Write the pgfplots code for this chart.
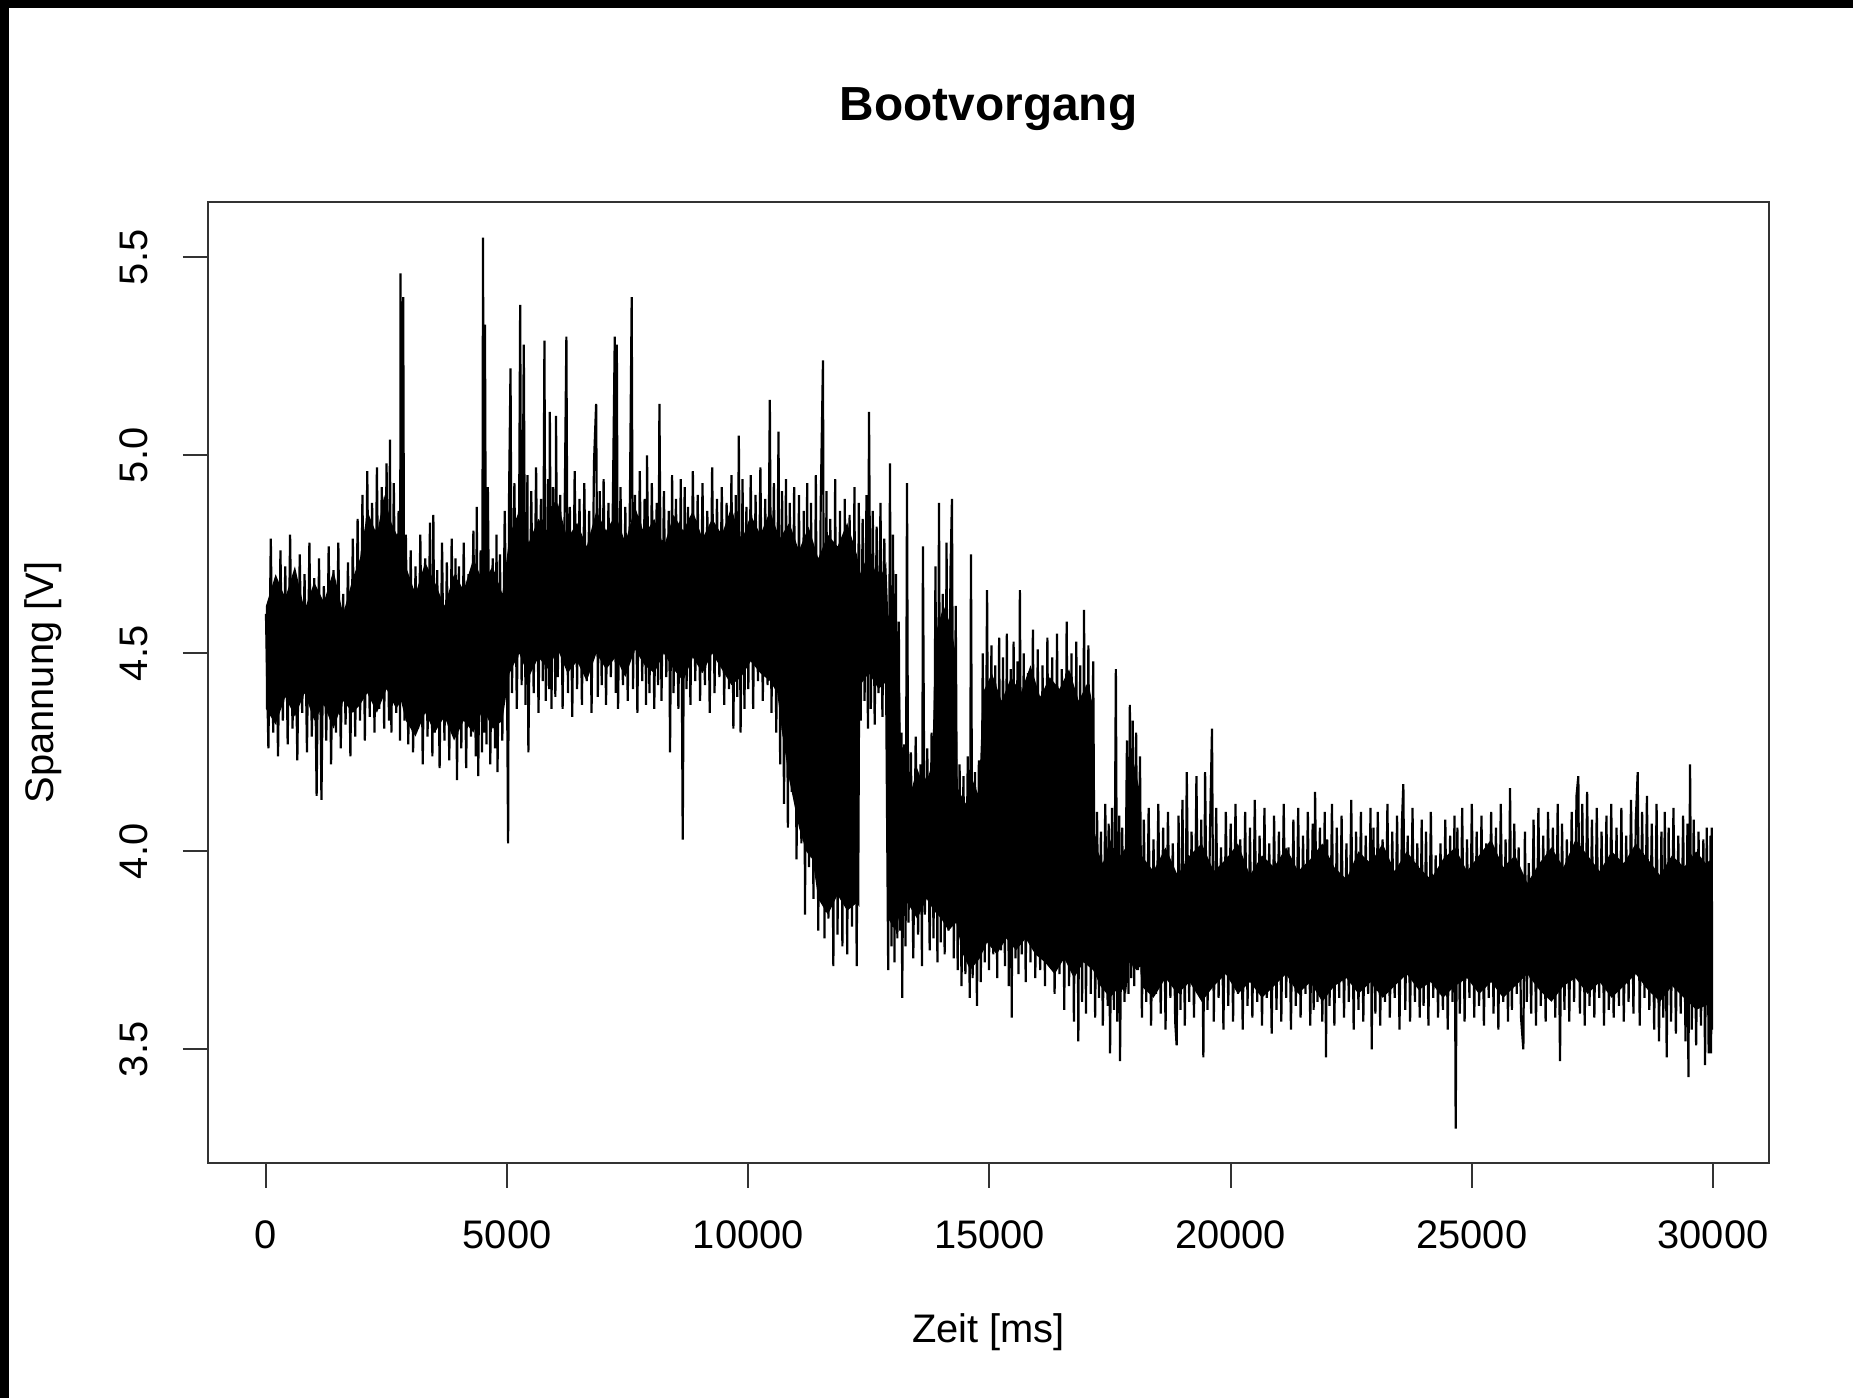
\documentclass[border=0pt]{standalone}
\usepackage{fontspec}
\setmainfont{Liberation Sans}
\usepackage{pgfplots}
\pgfplotsset{compat=1.18}

\begin{document}
\begin{tikzpicture}
\useasboundingbox (0,0) rectangle (463.25bp,349.5bp);
% screenshot frame: black strip at top and left
\fill[black] (0,0) rectangle (463.25bp,349.5bp);
\fill[white] (2.25bp,0) rectangle (463.25bp,347.5bp);
\begin{axis}[
  at={(52bp,58.75bp)}, anchor=south west,
  scale only axis, width=390.25bp, height=240.25bp,
  xmin=-1202, xmax=31161, ymin=3.213, ymax=5.640,
  axis line style={black!80, line width=0.5bp},
  tick style={black!80, line width=0.5bp},
  tick align=outside, major tick length=6.25bp,
  xtick pos=bottom, ytick pos=left,
  scaled x ticks=false, scaled y ticks=false,
  xtick={0,5000,10000,15000,20000,25000,30000},
  xticklabels={0,5000,10000,15000,20000,25000,30000},
  ytick={3.5,4,4.5,5,5.5},
  yticklabels={3.5,4.0,4.5,5.0,5.5},
  /pgf/number format/assume math mode=true,
  ticklabel style={font=\fontsize{10}{12}\selectfont},
  xticklabel style={anchor=center, yshift=-11.75bp},
  yticklabel style={xshift=-12.35bp, rotate=90, anchor=center},
  title={\bfseries Bootvorgang},
  title style={at={(axis description cs:0.5,1.072)}, anchor=center, font=\fontsize{12}{14}\selectfont},
  xlabel={Zeit [ms]},
  ylabel={Spannung [V]},
  label style={font=\fontsize{10}{12}\selectfont},
  xlabel style={at={(axis description cs:0.5,-0.176)}, anchor=center},
  ylabel style={at={(axis description cs:-0.1055,0.5)}, anchor=center},
]
% dense core of the signal band: upper edge, then lower edge backwards
\addplot[fill=black, draw=none] coordinates {
(0,4.62)(200,4.70)(400,4.64)(600,4.72)(800,4.61)(1000,4.68)(1200,4.63)(1400,4.71)(1600,4.60)(1800,4.69)
(1950,4.74)(2100,4.86)(2300,4.80)(2450,4.90)(2600,4.83)(2750,4.79)
(2900,4.72)(3100,4.65)(3300,4.73)(3500,4.68)(3700,4.62)(3900,4.70)(4100,4.66)(4300,4.74)(4500,4.68)(4700,4.72)(4900,4.65)
(5050,4.80)(5250,4.86)(5450,4.78)(5650,4.84)(5850,4.80)(6050,4.88)(6250,4.79)(6450,4.83)(6650,4.77)(6850,4.86)
(7050,4.81)(7250,4.85)(7450,4.78)(7650,4.87)(7850,4.80)(8050,4.84)(8250,4.77)(8450,4.85)(8650,4.81)(8850,4.86)
(9050,4.79)(9250,4.84)(9450,4.80)(9650,4.87)(9850,4.78)(10050,4.85)(10250,4.80)(10450,4.86)(10650,4.79)(10850,4.83)
(11050,4.76)(11250,4.82)(11450,4.74)(11650,4.80)(11850,4.77)(12050,4.83)(12250,4.75)
(12330,4.70)(12500,4.76)(12700,4.68)(12860,4.73)
(12900,4.60)(13050,4.52)(13130,4.48)
(13175,4.20)(13350,4.14)(13500,4.21)(13650,4.16)(13810,4.22)
(13880,4.55)(14050,4.62)(14200,4.57)(14300,4.50)
(14340,4.16)(14500,4.12)(14650,4.18)(14780,4.14)
(14860,4.40)(15050,4.45)(15250,4.38)(15450,4.44)(15650,4.40)(15850,4.47)(16050,4.39)(16250,4.44)(16450,4.41)(16650,4.46)
(16850,4.38)(17050,4.43)(17150,4.36)
(17180,4.02)(17350,3.97)(17500,4.03)(17650,3.98)(17830,4.01)
(17850,4.18)(18000,4.22)(18120,4.15)
(18150,3.99)(18400,3.95)(18650,4.01)(18900,3.94)(19150,3.99)(19400,4.02)(19650,3.95)(19900,3.98)(20150,4.02)(20400,3.94)
(20650,3.99)(20900,3.96)(21150,4.01)(21400,3.95)(21650,3.98)(21900,4.02)(22150,3.96)(22400,3.93)(22650,4.00)(22900,3.97)
(23150,4.02)(23400,3.95)(23650,4.00)(23900,3.96)(24150,3.93)(24400,3.98)(24650,4.01)(24900,3.95)(25150,3.99)(25400,4.03)
(25650,3.96)(25900,3.99)(26150,3.92)(26400,3.97)(26650,4.01)(26900,3.96)(27150,4.03)(27400,3.99)(27650,3.95)(27900,4.00)
(28150,3.97)(28400,4.02)(28650,3.98)(28900,3.94)(29150,3.99)(29400,3.96)(29650,4.00)(29850,3.97)(29970,3.98)
(29970,3.62)(29850,3.61)(29650,3.60)(29400,3.63)(29150,3.66)(28900,3.62)(28650,3.65)(28400,3.69)(28150,3.66)(27900,3.63)
(27650,3.67)(27400,3.64)(27150,3.68)(26900,3.66)(26650,3.62)(26400,3.65)(26150,3.69)(25900,3.66)(25650,3.63)(25400,3.67)
(25150,3.64)(24900,3.68)(24650,3.66)(24400,3.63)(24150,3.67)(23900,3.65)(23650,3.69)(23400,3.66)(23150,3.63)(22900,3.67)
(22650,3.64)(22400,3.68)(22150,3.66)(21900,3.62)(21650,3.67)(21400,3.64)(21150,3.69)(20900,3.66)(20650,3.63)(20400,3.67)
(20150,3.64)(19900,3.69)(19650,3.66)(19400,3.62)(19150,3.67)(18900,3.64)(18650,3.68)(18400,3.63)(18150,3.66)
(18130,3.71)(18050,3.70)(17900,3.72)
(17830,3.64)(17700,3.66)(17500,3.63)(17300,3.66)
(17150,3.70)(16950,3.72)(16750,3.68)(16550,3.73)(16350,3.69)(16150,3.72)
(15950,3.74)(15750,3.78)(15550,3.75)(15350,3.78)(15150,3.74)(14950,3.77)
(14800,3.73)(14600,3.70)(14450,3.74)
(14310,3.82)(14150,3.80)(14000,3.83)
(13850,3.85)(13700,3.88)(13500,3.83)(13300,3.87)
(13140,3.84)(13050,3.80)(12900,3.83)
(12870,4.43)(12700,4.41)(12500,4.45)(12320,4.42)
(12300,3.86)(12250,3.87)(12050,3.85)(11850,3.89)(11650,3.84)(11450,3.88)
(11330,3.98)(11200,4.00)(11050,4.06)
(10950,4.12)(10850,4.18)(10700,4.30)
(10600,4.40)(10450,4.43)(10250,4.45)(10050,4.48)(9850,4.44)(9650,4.42)(9450,4.46)(9250,4.50)(9050,4.45)(8850,4.49)
(8650,4.43)(8450,4.46)(8250,4.50)(8050,4.45)(7850,4.47)(7650,4.51)(7450,4.44)(7250,4.49)(7050,4.46)(6850,4.50)
(6650,4.43)(6450,4.48)(6250,4.45)(6050,4.51)(5850,4.46)(5650,4.49)(5450,4.44)(5250,4.50)(5050,4.45)
(4900,4.33)(4700,4.31)(4500,4.36)(4300,4.30)(4100,4.33)(3900,4.28)(3700,4.34)(3500,4.30)(3300,4.35)(3100,4.29)(2900,4.33)
(2800,4.38)(2700,4.36)(2500,4.41)(2300,4.35)(2100,4.40)
(1950,4.37)(1800,4.35)(1600,4.38)(1400,4.31)(1200,4.37)(1000,4.33)(800,4.40)(600,4.34)(400,4.39)(200,4.32)(0,4.36)
};
% measured voltage trace
\addplot[black, line width=0.55bp, line join=bevel, mark=none] coordinates {
(0,4.60)(50,4.26)(100,4.79)(150,4.30)(200,4.68)(250,4.24)(300,4.76)(350,4.33)(400,4.72)(450,4.27)
(500,4.80)(550,4.31)(600,4.66)(650,4.23)(700,4.75)(750,4.35)(800,4.70)(850,4.25)(900,4.78)(950,4.29)
(1000,4.69)(1050,4.14)(1100,4.74)(1150,4.13)(1200,4.67)(1250,4.28)(1300,4.77)(1350,4.22)(1400,4.71)(1450,4.30)
(1500,4.78)(1550,4.26)(1600,4.65)(1650,4.32)(1700,4.73)(1750,4.24)(1800,4.79)(1850,4.29)(1900,4.84)(1950,4.33)
(2000,4.90)(2050,4.28)(2100,4.96)(2150,4.34)(2200,4.88)(2250,4.30)(2300,4.97)(2350,4.36)(2400,4.92)(2450,4.31)
(2500,4.98)(2550,4.33)(2570,5.04)(2600,4.30)(2650,4.93)(2700,4.35)(2750,4.86)(2780,4.28)(2790,5.46)(2820,4.40)
(2845,5.40)(2870,4.33)(2900,4.80)(2950,4.27)
(3000,4.76)(3050,4.25)(3100,4.72)(3150,4.31)(3200,4.80)(3250,4.22)(3300,4.74)(3350,4.29)(3400,4.83)(3450,4.24)
(3470,4.85)(3500,4.30)(3550,4.71)(3600,4.21)(3650,4.78)(3700,4.28)(3750,4.73)(3800,4.23)(3850,4.79)(3900,4.30)
(3930,4.74)(3960,4.18)
(4000,4.72)(4050,4.26)(4100,4.78)(4150,4.21)(4200,4.70)(4250,4.29)(4300,4.81)(4350,4.24)(4370,4.87)(4400,4.19)
(4450,4.76)(4480,4.25)(4500,5.55)(4520,4.30)(4540,5.33)(4570,4.27)(4600,4.92)(4650,4.22)(4700,4.74)(4750,4.26)
(4780,4.80)(4800,4.20)(4850,4.75)(4900,4.28)(4950,4.86)
(5000,4.38)(5020,4.02)(5040,4.90)(5070,5.22)(5100,4.40)(5150,4.93)(5200,4.36)(5250,4.88)(5270,5.38)(5300,4.42)
(5345,5.28)(5380,4.37)(5420,4.95)(5440,4.25)(5500,4.91)(5550,4.40)(5600,4.97)(5650,4.35)(5700,4.89)(5740,4.43)
(5773,5.29)(5800,4.38)(5850,4.94)(5870,4.41)(5885,5.11)(5920,4.36)(5950,4.92)
(6000,4.39)(6013,5.10)(6050,4.44)(6100,4.90)(6150,4.36)(6200,4.95)(6228,5.30)(6260,4.40)(6300,4.87)(6350,4.34)
(6400,4.96)(6450,4.41)(6500,4.89)(6550,4.37)(6600,4.93)(6650,4.43)(6700,4.86)(6750,4.35)(6800,4.98)(6845,5.13)
(6880,4.39)(6920,4.91)(6960,4.42)
(7000,4.94)(7050,4.37)(7100,4.88)(7150,4.44)(7200,4.97)(7231,5.30)(7250,4.40)(7274,5.28)(7300,4.36)(7350,4.92)
(7400,4.42)(7450,4.87)(7500,4.38)(7550,4.95)(7582,5.40)(7610,4.41)(7650,4.90)(7700,4.35)(7750,4.96)(7800,4.43)
(7850,4.89)(7880,4.37)(7900,5.00)(7950,4.40)
(8000,4.93)(8050,4.36)(8100,4.88)(8130,4.42)(8157,5.13)(8200,4.38)(8250,4.91)(8300,4.44)(8350,4.86)(8377,4.25)
(8420,4.95)(8450,4.40)(8500,4.89)(8550,4.36)(8600,4.94)(8640,4.03)(8680,4.92)(8720,4.41)(8750,4.87)(8800,4.37)
(8850,4.96)(8900,4.43)(8950,4.90)
(9000,4.38)(9050,4.93)(9100,4.42)(9150,4.86)(9200,4.35)(9250,4.97)(9300,4.40)(9350,4.89)(9400,4.44)(9450,4.92)
(9500,4.37)(9550,4.88)(9600,4.41)(9650,4.95)(9690,4.31)(9740,4.90)(9770,4.39)(9803,5.05)(9840,4.30)(9880,4.94)
(9920,4.36)(9960,4.87)
(10000,4.41)(10050,4.95)(10100,4.36)(10150,4.90)(10200,4.43)(10250,4.97)(10300,4.38)(10350,4.89)(10400,4.42)(10446,5.14)
(10480,4.35)(10530,4.93)(10580,4.30)(10626,5.06)(10660,4.22)(10700,4.91)(10740,4.12)(10780,4.94)(10820,4.06)(10860,4.88)
(10900,4.15)(10950,4.92)
(11000,3.98)(11050,4.90)(11100,4.02)(11150,4.86)(11175,3.84)(11220,4.93)(11260,3.96)(11300,4.88)(11350,3.88)(11400,4.95)
(11450,3.80)(11500,4.87)(11548,5.24)(11580,3.78)(11620,4.91)(11660,3.83)(11700,4.84)(11763,3.71)(11800,4.94)(11850,3.79)
(11900,4.86)(11950,3.76)
(12000,4.89)(12050,3.74)(12100,4.85)(12150,3.81)(12200,4.92)(12247,3.71)(12290,4.88)(12330,4.33)(12370,4.84)(12410,4.38)
(12450,4.90)(12480,4.31)(12502,5.11)(12540,4.36)(12580,4.86)(12620,4.32)(12660,4.82)(12700,4.40)(12740,4.88)(12780,4.34)
(12820,4.79)(12860,4.37)(12900,3.70)(12937,4.98)(12970,3.76)
(13000,4.80)(13030,3.72)(13060,4.70)(13090,3.78)(13120,4.58)(13150,3.80)(13175,4.30)(13190,3.63)(13230,4.27)(13260,3.76)
(13290,4.93)(13320,3.82)(13370,4.25)(13420,3.73)(13470,4.29)(13520,3.79)(13570,4.22)(13600,3.71)(13620,4.77)(13660,3.84)
(13710,4.26)(13760,3.75)(13800,4.30)(13840,3.78)(13880,4.72)(13920,3.72)(13953,4.88)
(13990,3.77)(14030,4.65)(14070,3.74)(14110,4.78)(14150,3.80)(14190,4.70)(14222,4.89)(14260,3.73)(14300,4.62)(14340,3.70)
(14380,4.22)(14420,3.66)(14460,4.19)(14500,3.69)(14550,4.24)(14590,3.63)(14616,4.75)(14650,3.68)(14700,4.20)(14740,3.61)
(14780,4.23)(14820,3.67)(14860,4.50)(14900,3.72)(14950,4.66)
(14990,3.70)(15040,4.52)(15080,3.74)(15120,4.47)(15160,3.68)(15200,4.54)(15240,3.75)(15280,4.49)(15320,3.71)(15360,4.55)
(15400,3.66)(15440,4.46)(15460,3.58)(15500,4.53)(15540,3.73)(15580,4.48)(15600,3.69)(15630,4.66)(15670,3.74)(15710,4.50)
(15750,3.67)(15800,4.45)(15850,3.72)(15900,4.56)(15950,3.68)
(16000,4.51)(16050,3.70)(16100,4.47)(16150,3.66)(16200,4.54)(16250,3.73)(16300,4.49)(16350,3.64)(16400,4.55)(16450,3.69)
(16500,4.46)(16550,3.60)(16600,4.58)(16650,3.66)(16700,4.50)(16750,3.57)(16800,4.53)(16842,3.52)(16880,4.47)(16920,3.62)
(16960,4.61)
(17000,3.59)(17050,4.52)(17100,3.64)(17150,4.48)(17190,3.58)(17230,4.10)(17270,3.63)(17310,4.05)(17350,3.56)(17400,4.12)
(17450,3.61)(17470,4.07)(17500,3.49)(17540,4.11)(17580,3.60)(17620,4.46)(17650,3.57)(17690,4.09)(17706,3.47)(17750,4.06)
(17800,3.62)(17850,4.28)(17880,3.64)(17910,4.37)(17940,3.68)(17970,4.33)
(18000,3.66)(18040,4.30)(18080,3.70)(18120,4.24)(18160,3.58)(18200,4.08)(18250,3.62)(18300,4.11)(18350,3.56)(18400,4.03)
(18450,3.64)(18500,4.12)(18550,3.59)(18600,4.06)(18650,3.55)(18700,4.10)(18750,3.63)(18800,4.02)(18850,3.57)(18880,3.51)
(18920,4.09)(18960,3.60)
(19000,4.13)(19050,3.56)(19090,4.20)(19140,3.62)(19190,4.05)(19240,3.58)(19290,4.19)(19340,3.65)(19390,4.08)(19434,3.48)
(19470,4.20)(19520,3.60)(19570,4.04)(19613,4.31)(19650,3.57)(19700,4.11)(19750,3.63)(19800,4.01)(19850,3.55)(19900,4.10)
(19950,3.61)
(20000,4.07)(20050,3.57)(20100,4.12)(20150,3.64)(20200,4.03)(20250,3.55)(20300,4.10)(20350,3.61)(20400,4.06)(20450,3.58)
(20500,4.13)(20550,3.62)(20600,4.04)(20650,3.56)(20700,4.11)(20750,3.63)(20800,4.02)(20850,3.54)(20900,4.09)(20950,3.60)
(21000,4.05)(21050,3.57)(21100,4.12)(21150,3.63)(21200,4.01)(21250,3.55)(21300,4.08)(21350,3.61)(21400,4.11)(21450,3.58)
(21500,4.04)(21550,3.64)(21600,4.10)(21650,3.56)(21700,4.07)(21720,3.60)(21750,4.15)(21800,3.62)(21850,4.06)(21900,3.57)
(21950,4.10)(21977,3.48)
(22000,4.03)(22050,3.61)(22100,4.12)(22150,3.56)(22200,4.06)(22250,3.63)(22300,4.09)(22350,3.58)(22400,4.02)(22450,3.62)
(22500,4.13)(22550,3.55)(22600,4.05)(22650,3.60)(22700,4.10)(22750,3.57)(22800,4.04)(22850,3.64)(22900,4.11)(22924,3.50)
(22960,4.06)
(23000,3.59)(23050,4.10)(23100,3.56)(23150,4.03)(23200,3.62)(23250,4.12)(23300,3.58)(23350,4.05)(23400,3.63)(23450,4.09)
(23500,3.55)(23550,4.07)(23580,4.17)(23620,3.60)(23670,4.04)(23720,3.57)(23770,4.11)(23820,3.62)(23870,4.02)(23920,3.58)
(23960,4.08)
(24000,3.61)(24050,4.05)(24100,3.56)(24150,4.10)(24200,3.63)(24250,3.99)(24300,3.58)(24350,4.02)(24400,3.60)(24450,4.08)
(24500,3.55)(24550,4.04)(24600,3.62)(24640,4.09)(24665,3.30)(24700,4.06)(24750,3.59)(24800,4.11)(24850,3.57)(24900,4.03)
(24950,3.63)
(25000,4.12)(25050,3.58)(25100,4.05)(25150,3.61)(25200,4.09)(25250,3.56)(25300,4.02)(25350,3.63)(25400,4.10)(25450,3.59)
(25500,4.06)(25550,3.55)(25600,4.12)(25650,3.62)(25700,4.03)(25750,3.57)(25792,4.16)(25830,3.60)(25880,4.07)(25930,3.64)
(25970,4.01)
(26020,3.58)(26068,3.50)(26100,4.05)(26140,3.62)(26180,3.97)(26230,3.59)(26280,4.08)(26330,3.56)(26380,4.11)(26430,3.61)
(26480,4.04)(26530,3.57)(26580,4.10)(26630,3.63)(26680,4.06)(26730,3.58)(26780,4.12)(26828,3.47)(26870,4.07)(26920,3.60)
(26970,4.03)
(27020,3.57)(27070,4.10)(27120,3.62)(27170,4.14)(27208,4.19)(27240,3.59)(27290,4.12)(27340,3.56)(27390,4.15)(27440,3.61)
(27490,4.08)(27540,3.58)(27590,4.11)(27640,3.63)(27690,4.05)(27740,3.56)(27790,4.09)(27840,3.60)(27890,4.12)(27940,3.58)
(28000,4.06)(28050,3.61)(28100,4.11)(28150,3.57)(28200,4.04)(28250,3.62)(28300,4.13)(28350,3.59)(28400,4.08)(28439,4.20)
(28480,3.56)(28530,4.10)(28580,3.63)(28630,4.14)(28680,3.60)(28730,4.07)(28780,3.55)(28830,4.12)(28880,3.52)(28930,4.05)
(28970,3.58)
(29000,4.10)(29040,3.48)(29080,4.06)(29130,3.57)(29180,4.11)(29230,3.54)(29280,4.04)(29330,3.59)(29380,4.09)(29430,3.52)
(29470,4.07)(29490,3.43)(29524,4.22)(29560,3.55)(29600,4.08)(29650,3.51)(29700,4.05)(29750,3.56)(29800,4.03)(29835,3.46)
(29870,4.06)(29910,3.49)(29950,4.04)(29960,3.49)(29975,4.06)(29980,3.55)
};
\end{axis}
\end{tikzpicture}
\end{document}
